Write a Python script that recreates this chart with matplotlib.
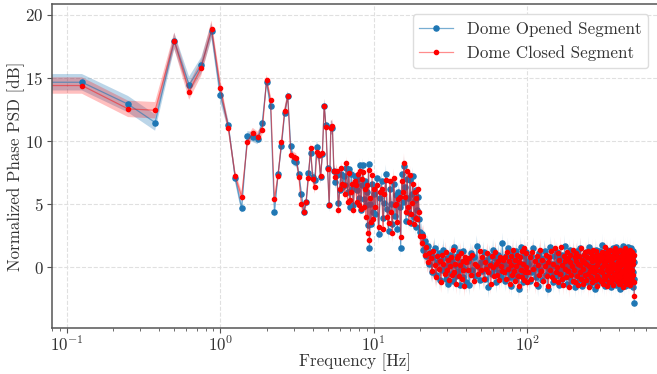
import numpy as np
import matplotlib
matplotlib.use('Agg')
import matplotlib.pyplot as plt

plt.rcParams['font.family'] = 'serif'
plt.rcParams['font.serif'] = ['cmr10']
plt.rcParams['mathtext.fontset'] = 'cm'
plt.rcParams['axes.formatter.use_mathtext'] = True
plt.rcParams['axes.unicode_minus'] = False

# frequency grid, Hz (DC bin first, then coarser steps at high f)
freq = np.concatenate([
    [0.0],
    np.arange(1, 81) * 0.125,        # 0.125 .. 10
    10.0 + np.arange(1, 41) * 0.25,  # 10.25 .. 20
    np.arange(20.5, 40.1, 0.5),      # 20.5 .. 40
    np.arange(41, 101, 1.0),         # 41 .. 100
    np.arange(102, 501, 2.0),        # 102 .. 500
])

# normalized phase PSD [dB]
opened_low = [14.7,
    14.66, 12.92, 11.47, 17.93, 14.45, 16.00, 18.70, 13.63,
    11.30, 7.04, 4.67, 10.39, 10.33, 10.15, 11.44, 14.69,
    12.76, 4.35, 7.36, 9.60, 12.23, 13.55, 9.60, 8.43,
    8.36, 7.43, 5.80, 4.40, 5.20, 7.48, 9.07, 7.17]
closed_low = [14.4,
    14.40, 12.55, 12.44, 17.96, 13.92, 15.82, 18.90, 14.21,
    11.07, 7.22, 5.60, 9.94, 10.65, 10.35, 10.86, 14.87,
    13.24, 5.40, 7.22, 9.91, 12.39, 13.55, 8.88, 8.75,
    8.62, 7.17, 4.98, 4.40, 5.14, 7.09, 9.49, 7.00]

opened_mid = [6.91, 9.54, 8.88, 7.17, 9.00, 12.80, 11.26, 7.83,
    4.93, 11.13, 11.00, 7.62, 6.78, 7.30, 5.06, 6.12,
    7.43, 6.38, 7.20, 6.50, 7.83, 6.00, 7.80, 4.80,
    7.40, 6.20, 4.93, 7.20, 6.60, 6.12, 7.00, 5.50,
    8.10, 4.53, 6.50, 8.09, 5.40, 6.80, 4.90, 6.00,
    3.35, 8.20, 1.50, 5.00, 3.40, 6.60, 4.40, 5.80]
closed_mid = [6.38, 9.15, 8.90, 7.20, 9.02, 12.80, 11.13, 7.80,
    4.95, 11.00, 11.18, 7.60, 7.17, 7.62, 4.53, 6.20,
    7.83, 6.59, 6.50, 5.80, 8.23, 5.20, 7.50, 5.30,
    6.00, 6.60, 4.53, 6.80, 6.50, 5.20, 7.40, 4.90,
    7.60, 4.60, 7.00, 7.57, 4.80, 6.20, 4.00, 6.50,
    2.70, 7.70, 2.20, 5.50, 3.60, 7.30, 3.80, 6.20]

opened_knee = [4.2, 7.1, 2.6, 5.5, 6.8, 3.9, 5.1, 7.4, 4.6, 2.9,
    6.2, 5.0, 3.4, 6.6, 4.1, 5.7, 3.0, 6.0, 4.8, 1.5,
    7.4, 5.2, 8.0, 6.4, 3.7, 7.0, 5.5, 4.3, 6.9, 3.5,
    5.8, 7.2, 4.0, 5.3, 3.2, 6.1, 4.5, 5.6, 3.8, 2.8]
closed_knee = [4.8, 6.5, 3.2, 6.0, 6.2, 3.0, 5.8, 6.9, 4.0, 3.5,
    6.8, 4.4, 2.7, 7.1, 4.9, 5.0, 3.6, 5.4, 5.6, 2.4,
    6.8, 6.0, 8.3, 5.6, 4.4, 7.6, 4.8, 3.6, 7.3, 4.2,
    5.1, 6.6, 3.4, 6.0, 3.9, 5.5, 3.8, 6.2, 4.4, 2.5]

opened_high = [
    2.6, 1.4, 2.1, 0.9, 1.7, 0.3, 1.2, -0.4, 0.8, 1.5,
    -0.6, 0.4, 1.1, -1.0, 0.6, -0.2, 1.4, 0.0, -0.9, 0.7,
    -1.3, 0.3, 1.0, -0.5, 0.5, -1.1, 1.6, 0.2, -0.7, 0.9,
    -0.3, 1.2, -1.4, 0.4, 0.0, -0.8, 1.3, -0.1, 0.6, -1.2,
    0.5, -1.4, 1.1, -0.2, 0.8, -0.7, 1.7, 0.1, -1.0, 0.4,
    -0.3, 1.2, -0.9, 0.6, 0.0, -1.6, 0.9, 0.3, -0.5, 1.4,
    -0.1, 0.7, -1.2, 0.2, 1.0, -0.4, 0.5, -0.8, 1.9, -0.2,
    0.3, -1.1, 0.9, -0.4, 1.5, 0.0, -0.8, 0.6, -1.5, 1.1,
    -0.2, 0.7, -1.0, 0.4, 1.3, -0.6, 0.2, -1.7, 0.8, -0.1,
    1.6, -0.5, 0.3, -1.2, 0.9, 0.1, -0.7, 1.2, -0.3, 0.5,
    0.3, -1.1, 0.9, -0.4, 1.5, 0.0, -0.8, 0.6, -1.5, 1.1,
    -0.2, 0.7, -1.0, 0.4, 1.3, -0.6, 0.2, -1.7, 0.8, -0.1,
    1.6, -0.5, 0.3, -1.2, 0.9, 0.1, -0.7, 1.2, -0.3, 0.5,
    -1.4, 0.8, -0.2, 1.0, -0.9, 0.4, -0.1, 1.7, -0.6, 0.2,
    -1.3, 0.7, 0.0, -0.8, 1.4, -0.4, 0.6, -1.1, 0.3, 1.1,
    -0.5, 0.9, -1.6, 0.2, -0.3, 1.3, -0.7, 0.5, -1.0, 0.1,
    1.5, -0.2, 0.4, -1.5, 0.8, -0.6, 1.0, 0.0, -1.2, 0.6,
    -0.4, 1.2, -0.9, 0.3, -0.1, 1.6, -0.8, 0.2, -1.4, 0.7,
    0.1, -0.5, 1.1, -1.1, 0.5, -0.2, 0.9, -1.7, 0.4, 1.4,
    -0.7, 0.3, -1.3, 1.0, -0.3, 0.6, -1.0, 1.3, -0.5, 0.2,
    1.0, -0.9, 0.5, -0.1, 1.8, -1.2, 0.3, 0.7, -0.6, 1.2,
    -1.5, 0.4, -0.3, 0.9, -0.8, 1.4, 0.0, -1.1, 0.6, -0.4,
    0.8, -1.3, 1.1, 0.2, -0.7, 0.5, -1.6, 1.0, -0.2, 0.3,
    -0.9, 1.5, -0.5, 0.1, 1.2, -1.0, 0.7, -0.3, 1.6, -1.4,
    0.4, -0.1, 0.9, -1.2, 0.6, 1.3, -0.8, 0.2, -0.5, 1.1,
    -1.7, 0.5, 0.0, -0.6, 1.4, -0.2, 0.8, -1.3, 0.3, 1.0,
    -0.4, 1.7, -1.0, 0.6, -0.3, 0.9, -1.5, 0.1, 1.2, -0.7,
    0.5, -1.1, 1.3, -0.2, 0.4, -0.9, 1.6, -0.5, 0.0, 0.8,
    -1.4, 0.7, -0.1, 1.1, -0.8, 0.3, 1.5, -1.2, 0.6, -0.3,
    1.0, -0.6, 0.2, -1.6, 0.9, -0.4, 1.3, -0.9, 0.4, -2.8]
closed_high = [
    1.9, 2.5, 1.0, 1.6, 0.4, 1.1, 0.7, -0.3, 1.3, 0.2,
    -0.8, 0.9, -0.1, 0.5, -1.2, 1.0, 0.3, -0.5, 1.2, -0.2,
    0.6, -1.0, 0.1, 0.8, -0.6, 1.4, -0.4, 0.3, -1.3, 0.7,
    0.9, -0.7, 0.2, 1.1, -0.9, 0.5, -0.2, -1.5, 0.8, 0.4,
    -0.2, 0.7, -0.6, 1.0, -1.1, 0.3, 0.1, -0.5, 1.3, -0.2,
    0.8, -0.9, 0.4, -0.1, 1.1, -0.4, 0.2, -1.3, 0.9, 0.0,
    -0.7, 1.2, 0.3, -0.6, 0.5, -1.0, 0.8, 0.1, -0.3, 0.6,
    -0.4, 0.8, -0.9, 1.2, -0.1, 0.5, -1.3, 0.9, 0.2, -0.6,
    1.4, -0.3, 0.6, -1.1, 0.1, 1.0, -0.7, 0.4, -1.5, 0.8,
    -0.2, 1.3, -0.8, 0.3, -1.0, 1.5, -0.4, 0.0, 1.1, -1.2,
    -0.4, 0.8, -0.9, 1.2, -0.1, 0.5, -1.3, 0.9, 0.2, -0.6,
    1.4, -0.3, 0.6, -1.1, 0.1, 1.0, -0.7, 0.4, -1.5, 0.8,
    -0.2, 1.3, -0.8, 0.3, -1.0, 1.5, -0.4, 0.0, 1.1, -1.2,
    0.6, -0.5, 1.6, -0.9, 0.2, -1.4, 0.9, -0.1, 0.5, -0.8,
    1.2, -0.3, 0.7, -1.6, 0.4, 1.0, -0.6, 0.1, -1.1, 1.4,
    -0.2, 0.8, -1.2, 0.5, 1.1, -0.7, 0.3, -1.4, 0.9, -0.4,
    0.2, 1.5, -0.9, 0.6, -0.1, -1.3, 1.0, 0.4, -0.6, 1.2,
    -1.0, 0.3, 0.8, -0.5, 1.3, -1.6, 0.1, 0.7, -0.3, 1.1,
    -0.8, 0.5, -1.2, 1.4, 0.0, -0.4, 0.9, -1.0, 0.6, -0.2,
    1.3, -0.7, 0.2, -1.5, 1.0, 0.4, -0.9, 0.7, -0.3, 0.9,
    -1.1, 0.6, 1.2, -0.4, 0.0, -1.3, 0.8, 0.3, -0.7, 1.6,
    0.2, -0.9, 0.5, 1.1, -1.5, 0.7, -0.2, 1.3, -0.6, 0.1,
    -1.2, 1.0, -0.3, 0.6, 1.4, -0.8, 0.4, -1.0, 0.9, -0.1,
    0.7, -1.4, 0.3, 1.2, -0.5, 0.0, 1.5, -0.9, 0.2, -0.6,
    1.1, -0.2, -1.1, 0.8, 0.4, -0.7, 1.3, -1.3, 0.5, 0.0,
    -0.5, 1.4, -0.8, 0.2, 0.9, -1.2, 0.6, -0.3, 1.0, -1.6,
    0.3, 0.8, -0.4, 1.2, -1.0, 0.5, -0.1, 1.5, -0.7, 0.1,
    -1.3, 0.6, 1.0, -0.6, 0.2, -0.9, 1.3, 0.0, -1.1, 0.7,
    0.4, -0.3, 1.4, -1.4, 0.8, 0.1, -0.5, 1.1, -0.8, 0.5,
    -0.2, 1.2, -1.0, 0.3, 0.9, -0.6, 0.6, -1.2, 1.0, -2.3]

psd_opened = np.array(opened_low + opened_mid + opened_knee + opened_high)
psd_closed = np.array(closed_low + closed_mid + closed_knee + closed_high)

# half width of the uncertainty band [dB] per frequency block
band_halfwidth = [0.65, 0.4, 0.55, 0.75, 0.85]
block_sizes = [9, 24, 48, 40, 300]
err = np.repeat(band_halfwidth, block_sizes)

fig = plt.figure(figsize=(6.57, 3.74), dpi=100)
ax = fig.add_axes([0.079, 0.124, 0.923, 0.865])

blue = '#1f77b4'
red = '#ff0000'
fs = 12.2

ax.fill_between(freq, psd_opened - err, psd_opened + err, color=blue, alpha=0.3, lw=0)
ax.plot(freq, psd_opened, color=(0.12, 0.47, 0.71, 0.6), lw=0.9, marker='o', ms=3.7,
        mfc=blue, mec=blue, label='Dome Opened Segment')
ax.fill_between(freq, psd_closed - err, psd_closed + err, color=red, alpha=0.25, lw=0)
ax.plot(freq, psd_closed, color=(1, 0, 0, 0.45), lw=0.9, marker='o', ms=3.0,
        mfc=red, mec=red, label='Dome Closed Segment')

ax.set_xscale('log')
ax.set_xlim(0.0796, 718)
ax.set_ylim(-4.78, 20.85)
ax.set_yticks([0, 5, 10, 15, 20])

ax.grid(True, which='major', ls='--', color='#e0e0e0', lw=0.8)
ax.set_axisbelow(True)
for s in ax.spines.values():
    s.set_color('#555555')
    s.set_linewidth(1.1)
ax.tick_params(which='major', length=3.5, pad=2.5, color='#555555', labelsize=fs, labelcolor='#333333')
ax.tick_params(axis='x', which='major', pad=1.5)
ax.tick_params(which='minor', length=2.5, color='#555555')

ax.set_xlabel('Frequency [Hz]', fontsize=fs, color='#333333', va='top')
ax.set_ylabel('Normalized Phase PSD [dB]', fontsize=fs, color='#333333')
ax.xaxis.set_label_coords(0.5, -0.079)
ax.yaxis.set_label_coords(-0.044, 0.5)

leg = ax.legend(loc='upper right', fontsize=fs, numpoints=1, framealpha=1,
                edgecolor='#dddddd', borderaxespad=0.6)
for t in leg.get_texts():
    t.set_color('#333333')

fig.savefig('out.png', dpi=100)
